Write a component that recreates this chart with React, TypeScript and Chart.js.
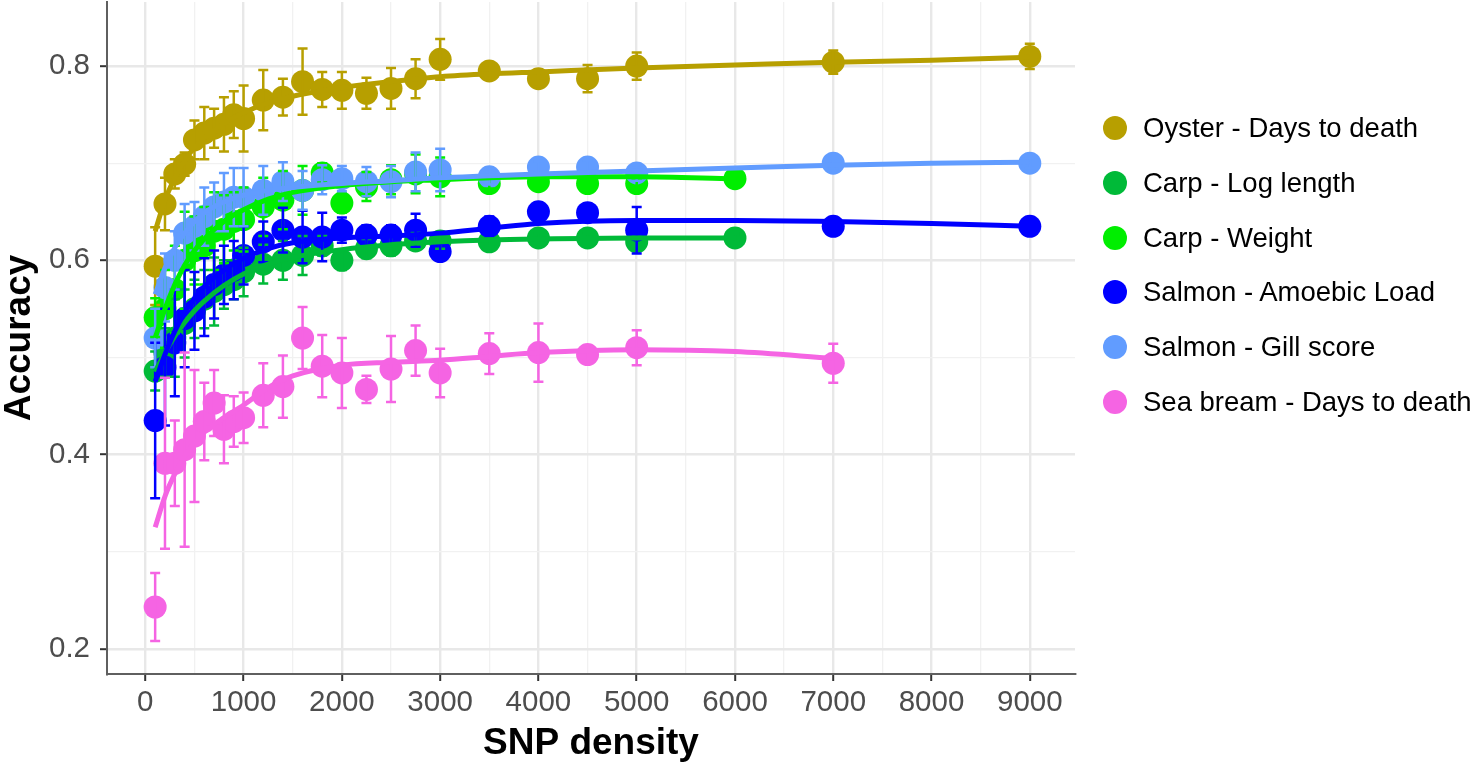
import React, { useEffect, useRef } from 'react';
import { Chart, registerables } from 'chart.js';

Chart.register(...registerables);

const FONT = '"Liberation Sans", Arial, Helvetica, sans-serif';

const seriesNames = [
  'Oyster - Days to death',
  'Carp - Log length',
  'Carp - Weight',
  'Salmon - Amoebic Load',
  'Salmon - Gill score',
  'Sea bream - Days to death',
];
const seriesColors = ['#B79F00', '#00BA38', '#00EE00', '#0000FF', '#619CFF', '#F564E3'];

// axis ticks (every grid line; labels only on the major ones)
const xTickValues = [0, 500, 1000, 1500, 2000, 2500, 3000, 3500, 4000, 4500, 5000, 5500, 6000, 6500, 7000, 7500, 8000, 8500, 9000];
const xTickLabels = ['0', '', '1000', '', '2000', '', '3000', '', '4000', '', '5000', '', '6000', '', '7000', '', '8000', '', '9000'];
const yTickValues = [0.2, 0.3, 0.4, 0.5, 0.6, 0.7, 0.8];
const yTickLabels = ['0.2', '', '0.4', '', '0.6', '', '0.8'];

// SNP densities tested per species
const oysterX = [100, 200, 300, 400, 500, 600, 700, 800, 900, 1000, 1200, 1400, 1600, 1800, 2000, 2250, 2500, 2750, 3000, 3500, 4000, 4500, 5000, 7000, 9000];
const carpX = [100, 200, 300, 400, 500, 600, 700, 800, 900, 1000, 1200, 1400, 1600, 1800, 2000, 2250, 2500, 2750, 3000, 3500, 4000, 4500, 5000, 6000];
const salmonX = [100, 200, 300, 400, 500, 600, 700, 800, 900, 1000, 1200, 1400, 1600, 1800, 2000, 2250, 2500, 2750, 3000, 3500, 4000, 4500, 5000, 7000, 9000];
const breamX = [100, 200, 300, 400, 500, 600, 700, 800, 900, 1000, 1200, 1400, 1600, 1800, 2000, 2250, 2500, 2750, 3000, 3500, 4000, 4500, 5000, 7000];

// mean accuracy
const oysterAcc = [0.594, 0.658, 0.689, 0.699, 0.724, 0.731, 0.736, 0.74, 0.75, 0.746, 0.765, 0.768, 0.784, 0.776, 0.775, 0.772, 0.777, 0.787, 0.807, 0.795, 0.787, 0.787, 0.8, 0.804, 0.81];
const logLengthAcc = [0.486, 0.505, 0.52, 0.535, 0.55, 0.56, 0.568, 0.575, 0.58, 0.588, 0.596, 0.6, 0.605, 0.615, 0.6, 0.612, 0.615, 0.62, 0.62, 0.619, 0.623, 0.623, 0.619, 0.623];
const weightAcc = [0.541, 0.55, 0.57, 0.6, 0.61, 0.615, 0.63, 0.632, 0.64, 0.642, 0.655, 0.662, 0.672, 0.69, 0.659, 0.676, 0.683, 0.689, 0.686, 0.679, 0.681, 0.679, 0.679, 0.684];
const amoebicAcc = [0.435, 0.49, 0.515, 0.54, 0.548, 0.562, 0.575, 0.585, 0.59, 0.605, 0.619, 0.631, 0.624, 0.624, 0.631, 0.626, 0.626, 0.631, 0.609, 0.635, 0.65, 0.649, 0.631, 0.635, 0.635];
const gillAcc = [0.52, 0.572, 0.6, 0.628, 0.635, 0.645, 0.655, 0.66, 0.665, 0.665, 0.672, 0.681, 0.672, 0.683, 0.684, 0.681, 0.681, 0.691, 0.693, 0.686, 0.696, 0.696, 0.69, 0.7, 0.7];
const breamAcc = [0.243, 0.391, 0.391, 0.405, 0.419, 0.434, 0.453, 0.426, 0.434, 0.438, 0.461, 0.47, 0.52, 0.491, 0.484, 0.467, 0.488, 0.507, 0.484, 0.504, 0.505, 0.503, 0.51, 0.494];

// error bar half-widths
const oysterErr = [0.04, 0.027, 0.015, 0.012, 0.02, 0.027, 0.02, 0.028, 0.024, 0.034, 0.031, 0.019, 0.034, 0.018, 0.019, 0.016, 0.021, 0.02, 0.021, 0.006, 0.008, 0.014, 0.014, 0.012, 0.013];
const logLengthErr = [0.02, 0.025, 0.04, 0.035, 0.03, 0.03, 0.035, 0.025, 0.02, 0.025, 0.02, 0.02, 0.02, 0.01, 0.01, 0.01, 0.01, 0.008, 0.008, 0.005, 0.005, 0.005, 0.005, 0.004];
const weightErr = [0.02, 0.04, 0.045, 0.05, 0.035, 0.04, 0.04, 0.035, 0.03, 0.033, 0.03, 0.03, 0.025, 0.01, 0.01, 0.015, 0.015, 0.02, 0.02, 0.005, 0.005, 0.005, 0.005, 0.003];
const amoebicErr = [0.08, 0.06, 0.055, 0.05, 0.04, 0.04, 0.035, 0.03, 0.03, 0.03, 0.021, 0.023, 0.027, 0.025, 0.013, 0.01, 0.01, 0.017, 0.008, 0.01, 0.004, 0.004, 0.024, 0.004, 0.004];
const gillErr = [0.03, 0.035, 0.03, 0.03, 0.025, 0.03, 0.025, 0.03, 0.03, 0.03, 0.025, 0.02, 0.02, 0.015, 0.013, 0.015, 0.016, 0.02, 0.022, 0.008, 0.006, 0.007, 0.008, 0.005, 0.005];
const breamErr = [0.035, 0.088, 0.044, 0.1, 0.068, 0.04, 0.034, 0.035, 0.026, 0.026, 0.033, 0.032, 0.032, 0.032, 0.036, 0.014, 0.034, 0.026, 0.025, 0.021, 0.03, 0.006, 0.018, 0.02];

// smoothed fits
const fitX = [100, 200, 300, 400, 500, 600, 800, 1000, 1250, 1500, 2000, 2500, 3000, 3500, 4000, 5000, 6000, 7000, 8000, 9000];
const oysterFit = [0.63, 0.662, 0.685, 0.703, 0.716, 0.726, 0.741, 0.752, 0.762, 0.769, 0.778, 0.784, 0.789, 0.792, 0.794, 0.798, 0.801, 0.804, 0.806, 0.809];
const logLengthFit = [0.485, 0.505, 0.522, 0.536, 0.548, 0.558, 0.574, 0.586, 0.596, 0.603, 0.611, 0.616, 0.619, 0.621, 0.622, 0.623, 0.623];
const weightFit = [0.52, 0.55, 0.575, 0.595, 0.61, 0.622, 0.64, 0.652, 0.663, 0.67, 0.677, 0.681, 0.683, 0.685, 0.686, 0.686, 0.684];
const amoebicFit = [0.475, 0.503, 0.527, 0.546, 0.561, 0.573, 0.59, 0.602, 0.612, 0.618, 0.623, 0.625, 0.628, 0.633, 0.638, 0.641, 0.641, 0.64, 0.638, 0.635];
const gillFit = [0.565, 0.592, 0.613, 0.628, 0.64, 0.649, 0.66, 0.667, 0.672, 0.675, 0.679, 0.682, 0.685, 0.687, 0.689, 0.692, 0.695, 0.698, 0.7, 0.701];
const breamFit = [0.325, 0.357, 0.38, 0.398, 0.412, 0.423, 0.438, 0.451, 0.469, 0.481, 0.492, 0.495, 0.497, 0.501, 0.505, 0.508, 0.506, 0.499];

const traitX = [oysterX, carpX, carpX, salmonX, salmonX, breamX];
const traitAcc = [oysterAcc, logLengthAcc, weightAcc, amoebicAcc, gillAcc, breamAcc];
const traitErr = [oysterErr, logLengthErr, weightErr, amoebicErr, gillErr, breamErr];
const traitFit = [oysterFit, logLengthFit, weightFit, amoebicFit, gillFit, breamFit];

const errorBars = {
  id: 'errorBars',
  // draw all error bars once the points are down, before the fitted curves
  beforeDatasetDraw(chart: any, args: any) {
    const ds = chart.data.datasets[args.index];
    if (ds.kind !== 'fit' || ds.series !== 0) return;
    const { ctx } = chart;
    const x = chart.scales.x;
    const y = chart.scales.y;
    ctx.save();
    ctx.lineWidth = 2.5;
    traitX.forEach((xs, i) => {
      ctx.strokeStyle = seriesColors[i];
      xs.forEach((v, j) => {
        const px = x.getPixelForValue(v);
        const lo = y.getPixelForValue(traitAcc[i][j] - traitErr[i][j]);
        const hi = y.getPixelForValue(traitAcc[i][j] + traitErr[i][j]);
        ctx.beginPath();
        ctx.moveTo(px, lo);
        ctx.lineTo(px, hi);
        ctx.moveTo(px - 5, lo);
        ctx.lineTo(px + 5, lo);
        ctx.moveTo(px - 5, hi);
        ctx.lineTo(px + 5, hi);
        ctx.stroke();
      });
    });
    ctx.restore();
  },
};

const App: React.FC = () => {
  const canvasRef = useRef<HTMLCanvasElement>(null);
  const chartRef = useRef<Chart | null>(null);

  useEffect(() => {
    if (!canvasRef.current) return;
    const ctx = canvasRef.current.getContext('2d');
    if (!ctx) return;
    if (chartRef.current) chartRef.current.destroy();

    const pointSets = seriesNames.map((name, i) => ({
      label: name,
      kind: 'points',
      series: i,
      order: 20 - i,
      data: traitX[i].map((v, j) => ({ x: v, y: traitAcc[i][j] })),
      showLine: false,
      pointRadius: 11.5,
      pointHoverRadius: 11.5,
      pointBorderWidth: 0,
      backgroundColor: seriesColors[i],
      borderColor: seriesColors[i],
    }));

    const fitSets = seriesNames.map((name, i) => ({
      label: name + ' fit',
      kind: 'fit',
      series: i,
      order: 10 - i,
      data: traitFit[i].map((v, j) => ({ x: fitX[j], y: v })),
      showLine: true,
      cubicInterpolationMode: 'monotone',
      pointRadius: 0,
      pointHoverRadius: 0,
      borderWidth: 5,
      borderColor: seriesColors[i],
      backgroundColor: seriesColors[i],
      fill: false,
    }));

    const xMajor = (c: any) => c.index !== undefined && xTickLabels[c.index] !== '';
    const yMajor = (c: any) => c.index !== undefined && yTickLabels[c.index] !== '';

    chartRef.current = new Chart(ctx, {
      type: 'scatter',
      data: { datasets: [...pointSets, ...fitSets] as any },
      plugins: [errorBars],
      options: {
        animation: false,
        responsive: false,
        events: [],
        layout: { autoPadding: false, padding: { left: 0, top: 2, right: 401, bottom: 0 } },
        plugins: {
          legend: { display: false },
          tooltip: { enabled: false },
        },
        scales: {
          x: {
            type: 'linear',
            min: -390,
            max: 9460,
            afterBuildTicks: (s: any) => {
              s.ticks = xTickValues.map((v) => ({ value: v }));
            },
            afterFit: (s: any) => {
              s.height = 94;
              s.paddingLeft = 0;
              s.paddingRight = 0;
            },
            border: { display: true, color: '#5f5f5f', width: 2 },
            grid: {
              color: (c: any) => (xMajor(c) ? '#e8e8e8' : '#f1f1f1'),
              lineWidth: (c: any) => (xMajor(c) ? 2.4 : 1.3),
              tickColor: (c: any) => (xMajor(c) ? '#333333' : 'rgba(0,0,0,0)'),
              tickLength: 7,
              tickWidth: 2,
            },
            ticks: {
              autoSkip: false,
              maxRotation: 0,
              padding: 4,
              color: '#4d4d4d',
              font: { family: FONT, size: 29.5 },
              callback: (_v: any, i: number) => xTickLabels[i],
            },
            title: {
              display: true,
              text: 'SNP density',
              color: '#000000',
              font: { family: FONT, size: 37, weight: 'bold', lineHeight: 1 },
              padding: { top: 0, bottom: 6 },
            },
          },
          y: {
            type: 'linear',
            min: 0.174,
            max: 0.866,
            afterBuildTicks: (s: any) => {
              s.ticks = yTickValues.map((v) => ({ value: v }));
            },
            afterFit: (s: any) => {
              s.width = 107;
              s.paddingTop = 0;
              s.paddingBottom = 0;
            },
            border: { display: true, color: '#5f5f5f', width: 2 },
            grid: {
              color: (c: any) => (yMajor(c) ? '#e8e8e8' : '#f1f1f1'),
              lineWidth: (c: any) => (yMajor(c) ? 2.4 : 1.3),
              tickColor: (c: any) => (yMajor(c) ? '#333333' : 'rgba(0,0,0,0)'),
              tickLength: 7,
              tickWidth: 2,
            },
            ticks: {
              autoSkip: false,
              padding: 10,
              color: '#4d4d4d',
              font: { family: FONT, size: 29.5 },
              callback: (_v: any, i: number) => yTickLabels[i],
            },
            title: {
              display: true,
              text: 'Accuracy',
              color: '#000000',
              font: { family: FONT, size: 37, weight: 'bold', lineHeight: 1 },
              padding: { top: 1, bottom: 0 },
            },
          },
        },
      } as any,
    });

    return () => {
      if (chartRef.current) {
        chartRef.current.destroy();
        chartRef.current = null;
      }
    };
  }, []);

  const legendRows = [128, 183, 238, 292, 347, 402];

  return (
    <div style={{ position: 'fixed', left: 0, top: 0, width: 1476, height: 768, background: '#ffffff' }}>
      <canvas ref={canvasRef} width={1476} height={768} style={{ width: 1476, height: 768, display: 'block' }} />
      {seriesNames.map((name, i) => (
        <div
          key={name}
          style={{
            position: 'absolute',
            left: 1103,
            top: legendRows[i] - 16,
            height: 32,
            display: 'flex',
            alignItems: 'center',
            fontFamily: FONT,
            fontSize: 27.5,
            color: '#000000',
            whiteSpace: 'nowrap',
          }}
        >
          <span
            style={{
              width: 24,
              height: 24,
              borderRadius: '50%',
              background: seriesColors[i],
              display: 'inline-block',
              marginRight: 16,
            }}
          />
          <span>{name}</span>
        </div>
      ))}
    </div>
  );
};

export default App;
